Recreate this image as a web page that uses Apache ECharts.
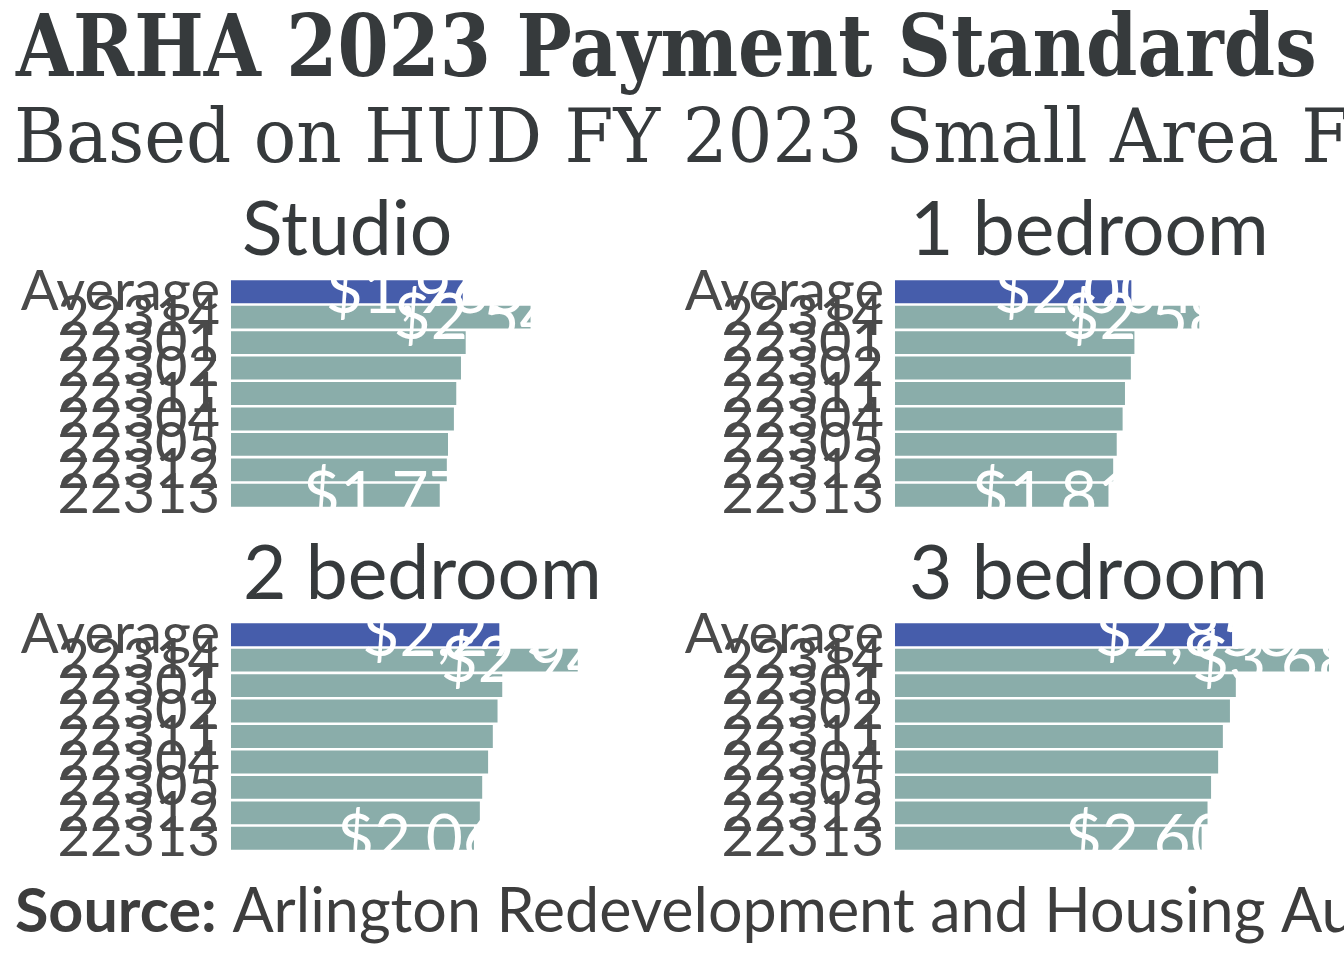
<!DOCTYPE html>
<html>
<head>
<meta charset="utf-8">
<script src="https://cdn.jsdelivr.net/npm/echarts@6/dist/echarts.min.js"></script>
<style>html,body{margin:0;padding:0;background:#fff}#c{width:1344px;height:960px}</style>
</head>
<body>
<div id="c"></div>
<script>
const titleText = 'ARHA 2023 Payment Standards';
const subtitleText = 'Based on HUD FY 2023 Small Area Fair Market Rents';
const sourceText = 'Arlington Redevelopment and Housing Authority';
const panelTitles = ['Studio', '1 bedroom', '2 bedroom', '3 bedroom'];
const categories = ['Average', '22314', '22301', '22302', '22311', '22304', '22305', '22312', '22313'];
const studio  = [1965, 2540, 1990, 1950, 1910, 1890, 1840, 1830, 1770];
const oneBed  = [2004, 2580, 2030, 2000, 1950, 1930, 1880, 1850, 1810];
const twoBed  = [2275, 2940, 2300, 2260, 2220, 2180, 2130, 2110, 2060];
const threeBed = [2858, 3680, 2890, 2840, 2780, 2740, 2680, 2650, 2600];
const labelledRows = [0, 1, 8];

const panels = [studio, oneBed, twoBed, threeBed];
const gridPos = [
  {left: 231, top: 279}, {left: 895, top: 279},
  {left: 231, top: 622}, {left: 895, top: 622}
];
const AVG_COLOR = '#465dab';
const BAR_COLOR = '#8aadaa';
const FONT = 'Lato, "Noto Sans", sans-serif';

const chart = echarts.init(document.getElementById('c'), null, {renderer: 'canvas'});
const grids = [], xAxes = [], yAxes = [], series = [];
panels.forEach((vals, i) => {
  grids.push({left: gridPos[i].left, top: gridPos[i].top, width: 434, height: 229, containLabel: false});
  xAxes.push({type: 'value', gridIndex: i, min: 0, max: 3680, show: false});
  yAxes.push({
    type: 'category', gridIndex: i, data: categories, inverse: true,
    axisLine: {show: false}, axisTick: {show: false}, splitLine: {show: false},
    axisLabel: {interval: 0, margin: 11, fontSize: 56, fontFamily: FONT, color: '#4a4a4a'}
  });
  series.push({
    type: 'bar', xAxisIndex: i, yAxisIndex: i, barCategoryGap: '10%',
    data: vals.map((v, j) => ({value: v, itemStyle: {color: j === 0 ? AVG_COLOR : BAR_COLOR}})),
    label: {
      show: true, position: 'right', distance: 0, offset: [-137, 1],
      color: '#ffffff', fontSize: 64, fontFamily: FONT,
      formatter: p => labelledRows.indexOf(p.dataIndex) >= 0 ? '$' + p.value.toLocaleString('en-US') : ''
    },
    emphasis: {disabled: true}, animation: false
  });
});

const graphics = [
  {type: 'text', x: 16, y: 54, scaleX: 0.855, style: {text: titleText, font: 'bold 86px "DejaVu Serif"', fill: '#363a3c', verticalAlign: 'middle'}},
  {type: 'text', x: 14, y: 143, scaleX: 0.942, style: {text: subtitleText, font: '75px "DejaVu Serif"', fill: '#363a3c', verticalAlign: 'middle'}},
  {type: 'text', x: 242, y: 231, style: {text: panelTitles[0], font: '75px Lato', fill: '#363a3c', verticalAlign: 'middle'}},
  {type: 'text', x: 910, y: 231, style: {text: panelTitles[1], font: '75px Lato', fill: '#363a3c', verticalAlign: 'middle'}},
  {type: 'text', x: 243, y: 575, style: {text: panelTitles[2], font: '75px Lato', fill: '#363a3c', verticalAlign: 'middle'}},
  {type: 'text', x: 909, y: 575, style: {text: panelTitles[3], font: '75px Lato', fill: '#363a3c', verticalAlign: 'middle'}},
  {type: 'text', x: 15, y: 912, style: {
    text: '{b|Source:} ' + sourceText, font: '61px Lato', fill: '#3d3d3d', verticalAlign: 'middle',
    rich: {b: {fontWeight: 'bold', fontSize: 61, fontFamily: 'Lato', fill: '#3d3d3d'}}
  }}
];

chart.setOption({
  backgroundColor: '#ffffff',
  animation: false,
  grid: grids, xAxis: xAxes, yAxis: yAxes, series: series,
  graphic: graphics
});
</script>
</body>
</html>
